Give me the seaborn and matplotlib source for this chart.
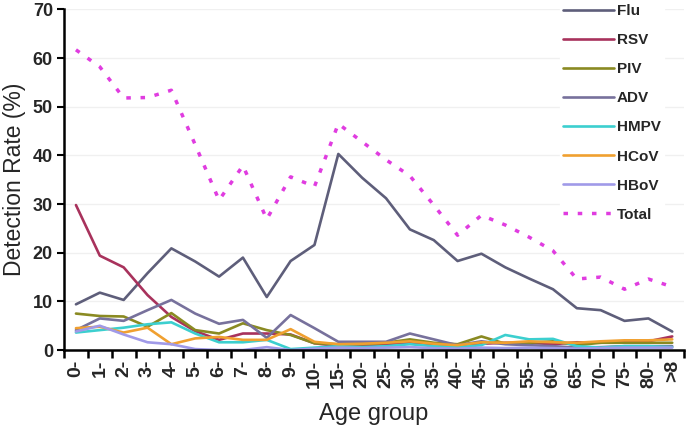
import numpy as np
import pandas as pd
import matplotlib
matplotlib.use("Agg")
import matplotlib.pyplot as plt
import seaborn as sns
from matplotlib.ticker import FixedLocator
from matplotlib.lines import Line2D

# ---- data ----
ages = ["0-", "1-", "2-", "3-", "4-", "5-", "6-", "7-", "8-", "9-", "10-", "15-", "20-",
        "25-", "30-", "35-", "40-", "45-", "50-", "55-", "60-", "65-", "70-", "75-", "80-", ">8"]
flu = [9.4, 11.8, 10.3, 15.8, 20.9, 18.2, 15.1, 19.0, 10.9, 18.3, 21.6, 40.3, 35.4,
       31.2, 24.8, 22.6, 18.3, 19.8, 17.0, 14.7, 12.5, 8.6, 8.2, 6.0, 6.5, 3.8]
rsv = [29.8, 19.4, 17.0, 11.3, 6.8, 3.9, 2.1, 3.4, 3.4, 3.2, 1.4, 0.8, 1.0,
       1.2, 1.5, 1.0, 0.8, 1.3, 1.5, 1.5, 1.2, 1.6, 1.5, 1.8, 1.8, 2.8]
piv = [7.5, 7.0, 6.9, 4.8, 7.6, 4.1, 3.4, 5.5, 4.1, 3.1, 1.4, 1.2, 1.2,
       1.5, 2.2, 1.5, 1.2, 2.8, 1.3, 1.5, 1.8, 1.0, 1.5, 1.5, 1.5, 1.5]
adv = [4.1, 6.5, 6.0, 8.2, 10.3, 7.5, 5.4, 6.2, 2.5, 7.2, 4.5, 1.7, 1.7,
       1.7, 3.4, 2.2, 1.0, 1.8, 1.2, 1.0, 0.8, 0.5, 0.6, 0.8, 0.8, 0.8]
hmpv = [3.6, 4.1, 4.6, 5.3, 5.7, 3.4, 1.6, 1.6, 2.1, 0.2, 0.5, 0.8, 0.6,
        0.8, 1.2, 0.8, 0.6, 1.0, 3.1, 2.2, 2.3, 0.8, 0.5, 0.8, 0.8, 0.6]
hcov = [4.5, 4.8, 3.6, 4.6, 1.2, 2.4, 2.7, 2.1, 2.1, 4.3, 1.7, 1.2, 1.3,
        1.5, 1.8, 1.3, 1.0, 1.6, 1.5, 1.8, 1.6, 1.5, 1.8, 2.0, 2.0, 2.2]
hbov = [3.8, 5.0, 3.2, 1.6, 1.2, 0.2, 0.0, 0.0, 0.6, 0.0, 0.3, 0.5, 0.4,
        0.5, 0.6, 0.4, 0.3, 0.5, 0.4, 0.5, 0.4, 0.3, 0.4, 0.5, 0.5, 0.5]
total = [61.7, 58.2, 51.8, 51.9, 53.4, 42.2, 30.8, 37.9, 26.9, 35.6, 33.6, 46.5, 42.8,
         39.1, 35.8, 29.8, 23.6, 27.7, 25.7, 23.2, 20.4, 14.6, 15.0, 12.5, 14.6, 13.0]

virus_names = ["Flu", "RSV", "PIV", "ADV", "HMPV", "HCoV", "HBoV"]
virus_values = [flu, rsv, piv, adv, hmpv, hcov, hbov]
colors = {"Flu": "#5E5E7A", "RSV": "#A8325C", "PIV": "#8A8A22", "ADV": "#77719C",
          "HMPV": "#3CCFCF", "HCoV": "#F0A030", "HBoV": "#A09AE8"}
total_color = "#E03CE0"
total_dash = (0, (1.3, 2.8))

rows = []
for name, vals in zip(virus_names, virus_values):
    for i, (a, v) in enumerate(zip(ages, vals)):
        rows.append({"pos": i, "age": a, "virus": name, "rate": v})
df = pd.DataFrame(rows)
df_total = pd.DataFrame({"pos": np.arange(len(ages)), "age": ages, "rate": total})

# ---- style ----
sns.set_theme(style="white")
plt.rcParams["font.family"] = ["Liberation Sans", "DejaVu Sans"]

fig = plt.figure(figsize=(6.96, 4.29), dpi=100)
ax = fig.add_axes([0.092, 0.184, 0.891, 0.794])

for yv in range(10, 71, 10):
    ax.axhline(yv, color="#F0F0F0", lw=1.0, zorder=0)

sns.lineplot(data=df, x="pos", y="rate", hue="virus", hue_order=virus_names,
             palette=colors, linewidth=1.9, sort=False, ax=ax, legend=False)
sns.lineplot(data=df_total, x="pos", y="rate", color=total_color, linewidth=2.5,
             linestyle=total_dash, sort=False, ax=ax, legend=False)

ax.set_xlim(-0.5, len(ages) - 0.5)
ax.set_ylim(0, 70)
ax.set_yticks(range(0, 71, 10))
ax.set_xticks(range(len(ages)))
ax.set_xticklabels(ages, rotation=90, fontsize=14, fontweight="bold")
ax.xaxis.set_minor_locator(FixedLocator(np.arange(-0.5, len(ages), 1.0)))
ax.tick_params(axis="x", which="major", length=0, pad=7)
ax.tick_params(axis="x", which="minor", length=6, width=1.8, color="black", direction="out", bottom=True)
ax.tick_params(axis="y", which="major", length=5, width=1.5, color="black", direction="out",
               left=True, labelsize=13, pad=3)
for lab in ax.get_yticklabels():
    lab.set_fontweight("bold")

for s in ["top", "right"]:
    ax.spines[s].set_visible(False)
for s in ["left", "bottom"]:
    ax.spines[s].set_color("black")
    ax.spines[s].set_linewidth(1.8)

ax.set_xlabel("Age group", fontsize=17, labelpad=11)
ax.set_ylabel("Detection Rate (%)", fontsize=16.5, labelpad=5)

# legend
handles = [Line2D([], [], color=colors[n], lw=1.9) for n in virus_names]
labels = list(virus_names)
handles.append(Line2D([], [], color=total_color, lw=2.5, linestyle=total_dash))
labels.append("Total")
leg = fig.legend(handles, labels, loc="upper left", bbox_to_anchor=(0.805, 0.998),
                 bbox_transform=fig.transFigure, frameon=True, fancybox=False,
                 facecolor="white", edgecolor="white", framealpha=1.0,
                 prop={"weight": "bold", "size": 11}, handlelength=3.3,
                 handletextpad=0.2, labelspacing=0.99, borderpad=0.2, borderaxespad=0)

fig.savefig("out.png", dpi=100)
